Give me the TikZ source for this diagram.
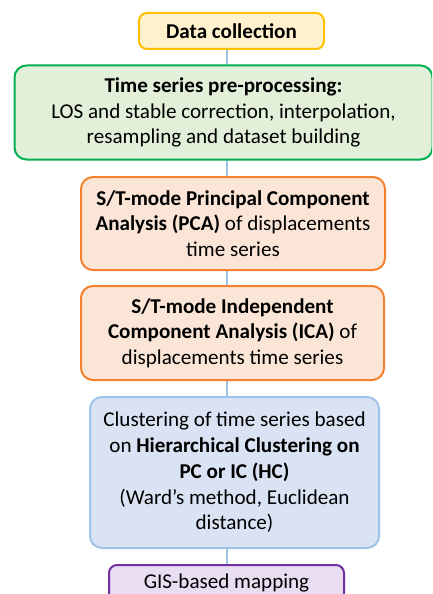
\documentclass[tikz,border=0pt]{standalone}
\usepackage{fontspec}
\setmainfont{Carlito}
\usetikzlibrary{backgrounds}

\definecolor{dcfill}{HTML}{FFF2CC}
\definecolor{dcline}{HTML}{FFC000}
\definecolor{grfill}{HTML}{E2F0D9}
\definecolor{grline}{HTML}{00B050}
\definecolor{orfill}{HTML}{FBE5D6}
\definecolor{orline}{HTML}{F4812F}
\definecolor{blfill}{HTML}{DAE3F3}
\definecolor{blline}{HTML}{9DC3E6}
\definecolor{pufill}{HTML}{E9DDF2}
\definecolor{puline}{HTML}{7030A0}

\tikzset{
  flowbox/.style={draw, line width=2pt, rounded corners=12pt, align=center,
    inner sep=0pt, font=\fontsize{21.1}{25.7}\selectfont},
  smallbox/.style={flowbox, rounded corners=8pt},
  spine/.style={draw=blline, line width=1.6pt},
}

\begin{document}
\begin{tikzpicture}[x=1pt, y=-1pt]
  \useasboundingbox (0,0) rectangle (432,594);
  \clip (0,0) rectangle (432,594);

  \coordinate (axis) at (227,0);

  \node[smallbox, fill=dcfill, draw=dcline, minimum width=185pt, minimum height=36pt]
    (dc) at (231.5,31) {\textbf{Data collection}};

  \node[flowbox, fill=grfill, draw=grline, minimum width=418pt, minimum height=94pt]
    (pre) at (223.5,112.5) {\textbf{Time series pre-processing:}\\
      LOS and stable correction, interpolation,\\
      resampling and dataset building};

  \node[flowbox, fill=orfill, draw=orline, minimum width=304pt, minimum height=93pt]
    (pca) at (233,223.5) {\textbf{S/T-mode Principal Component}\\
      \textbf{Analysis (PCA)} of displacements\\
      time series};

  \node[flowbox, fill=orfill, draw=orline, minimum width=303pt, minimum height=94pt]
    (ica) at (232.5,333) {\textbf{S/T-mode Independent}\\
      \textbf{Component Analysis (ICA)} of\\
      displacements time series};

  \node[flowbox, fill=blfill, draw=blline, minimum width=289pt, minimum height=151pt]
    (hc) at (234.5,472.5) {Clustering of time series based\\
      on \textbf{Hierarchical Clustering on}\\
      \textbf{PC or IC (HC)}\\
      (Ward’s method, Euclidean\\
      distance)};

  \node[smallbox, fill=pufill, draw=puline, minimum width=235pt, minimum height=36pt]
    (gis) at (226.5,583) {GIS-based mapping};

  % the spine joining every stage, kept behind the boxes
  \begin{scope}[on background layer]
    \draw[spine] (dc.south -| axis) -- (gis.north -| axis);
  \end{scope}
\end{tikzpicture}
\end{document}
